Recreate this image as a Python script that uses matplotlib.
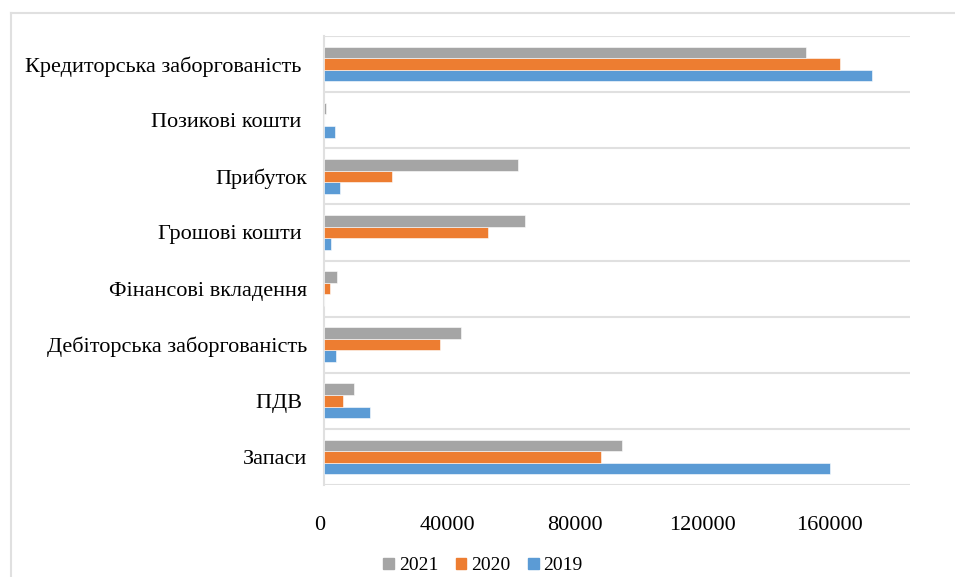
import matplotlib
matplotlib.use("Agg")
import matplotlib.pyplot as plt
from matplotlib.lines import Line2D
from matplotlib.patches import Patch
from matplotlib.transforms import ScaledTranslation
import numpy as np

# Categories listed bottom to top
categories = [
    "Запаси",
    "ПДВ ",
    "Дебіторська заборгованість",
    "Фінансові вкладення",
    "Грошові кошти ",
    "Прибуток",
    "Позикові кошти ",
    "Кредиторська заборгованість ",
]

values_2019 = [159000, 14500, 3700, 0, 2100, 5000, 3300, 172000]
values_2020 = [87000, 6000, 36500, 1800, 51500, 21500, 0, 162000]
values_2021 = [93500, 9300, 43000, 4200, 63000, 61000, 700, 151500]

series = [
    ("2019", values_2019, "#5b9bd5"),
    ("2020", values_2020, "#ed7d31"),
    ("2021", values_2021, "#a5a5a5"),
]

x_ticks = [0, 40000, 80000, 120000, 160000]
x_max = 184000

plt.rcParams["font.family"] = ["Liberation Serif", "DejaVu Serif"]
FS = 16
LEG_FS = 14

fig = plt.figure(figsize=(9.55, 5.77), dpi=100)
ax = fig.add_axes([324 / 955, 1 - 485 / 577, (910 - 324) / 955, (485 - 36) / 577])

y = np.arange(len(categories))
h = 0.207
for k, (name, vals, color) in enumerate(series):
    ax.barh(y + (k - 1) * h, vals, height=h, color=color,
            edgecolor="white", linewidth=0.4, label=name, zorder=3)

ax.set_ylim(-0.5, len(categories) - 0.5)
ax.set_xlim(0, x_max)

# category separators as horizontal gridlines
ax.set_yticks(y)
ax.set_yticklabels(categories, fontsize=FS)
ax.set_yticks(np.arange(-0.5, len(categories), 1.0), minor=True)
ax.grid(True, which="minor", axis="y", color="#e0e0e0", linewidth=1.5, zorder=0)
ax.tick_params(axis="y", which="both", length=0, pad=12)

ax.set_xticks(x_ticks)
ax.set_xticklabels([str(v) for v in x_ticks], fontsize=FS)
ax.tick_params(axis="x", length=0, pad=22)
shift = ScaledTranslation(-4 / 100, 0, fig.dpi_scale_trans)
for lbl in ax.get_xticklabels():
    lbl.set_transform(lbl.get_transform() + shift)

for side in ["top", "right", "bottom"]:
    ax.spines[side].set_visible(False)
ax.spines["left"].set_color("#e0e0e0")
ax.spines["left"].set_linewidth(1.5)

handles = [Patch(color=c) for _, _, c in series[::-1]]
labels = [n for n, _, _ in series[::-1]]
fig.legend(handles, labels, loc="center", bbox_to_anchor=(483 / 955, 1 - 566 / 577),
           ncol=3, frameon=False, fontsize=LEG_FS, handlelength=0.55, handleheight=0.55,
           handletextpad=0.25, columnspacing=0.9)

# outer chart border (top and left edges)
bx, by = 11 / 955, 1 - 13 / 577
fig.add_artist(Line2D([bx, 1.0], [by, by], transform=fig.transFigure,
                      color="#e0e0e0", linewidth=1.5))
fig.add_artist(Line2D([bx, bx], [0.0, by], transform=fig.transFigure,
                      color="#e0e0e0", linewidth=1.5))

fig.savefig("out.png", dpi=100, facecolor="white")
